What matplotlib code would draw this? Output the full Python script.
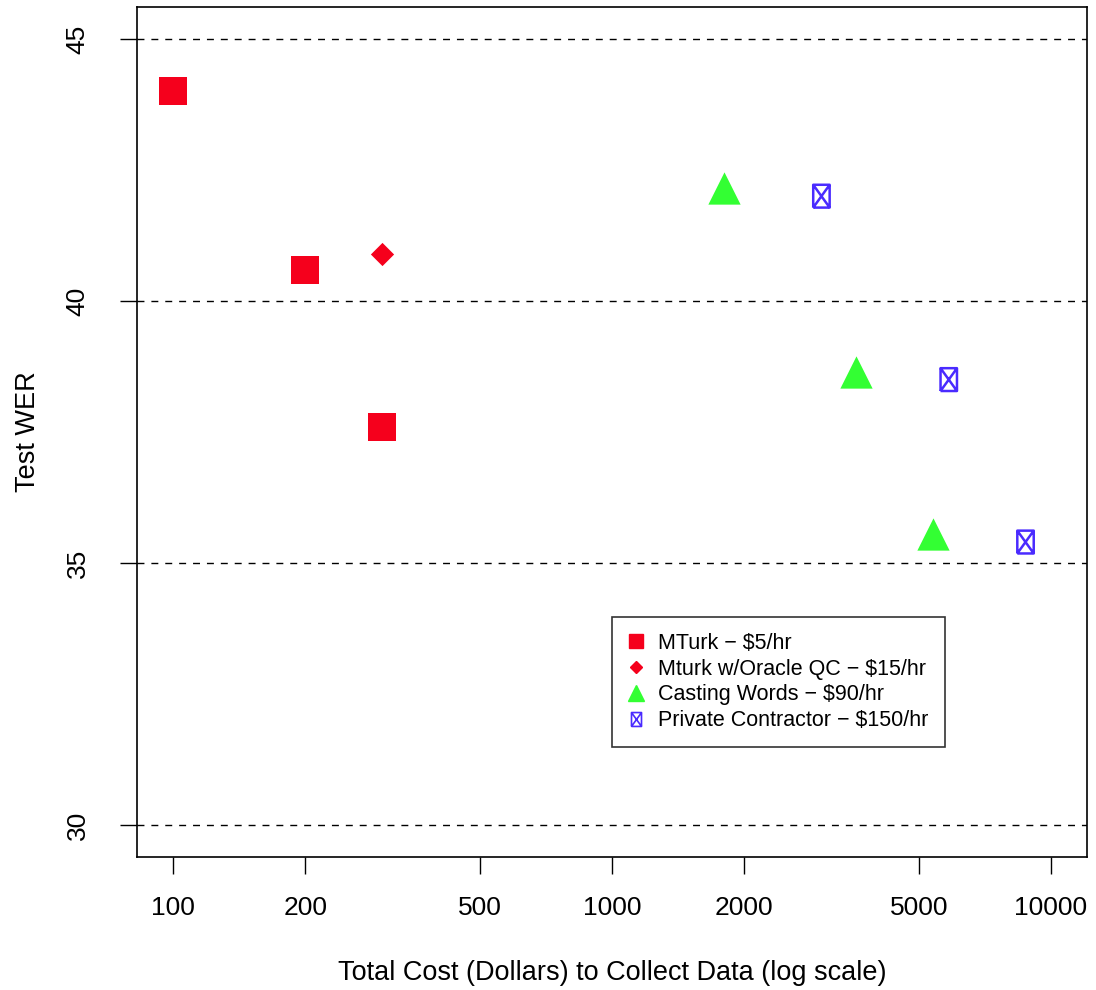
import matplotlib
matplotlib.use("Agg")
import matplotlib.pyplot as plt
from matplotlib.path import Path

plt.rcParams["font.family"] = ["Liberation Sans", "DejaVu Sans"]

# data
mturk_cost = [100, 200, 300]
mturk_wer = [44.0, 40.6, 37.6]
oracle_cost = [300]
oracle_wer = [40.9]
casting_cost = [1800, 3600, 5400]
casting_wer = [42.15, 38.65, 35.55]
contractor_cost = [3000, 5850, 8750]
contractor_wer = [42.0, 38.5, 35.4]

xticks = [100, 200, 500, 1000, 2000, 5000, 10000]
yticks = [30, 35, 40, 45]

labels = ["MTurk \u2212 $5/hr", "Mturk w/Oracle QC \u2212 $15/hr",
          "Casting Words \u2212 $90/hr", "Private Contractor \u2212 $150/hr"]

# rectangle with an X inside (R pch 7 style, a bit narrow)
w, h = 0.36, 0.5
box_x = Path([(-w, -h), (w, -h), (w, h), (-w, h), (-w, -h), (-w, -h), (w, h), (w, -h), (-w, h)],
             [Path.MOVETO, Path.LINETO, Path.LINETO, Path.LINETO, Path.LINETO,
              Path.MOVETO, Path.LINETO, Path.MOVETO, Path.LINETO])

red = "#f5001c"
green = "#33ff33"
blue = "#4a2bff"

fig = plt.figure(figsize=(10.96, 9.9), dpi=100)
ax = fig.add_axes([137 / 1096, 1 - 857 / 990, 950 / 1096, 850 / 990])
ax.set_xscale("log")
ax.set_xlim(82.8, 12080)
ax.set_ylim(29.39, 45.61)

for y in yticks:
    ax.axhline(y, color="black", lw=1.0, ls=(0, (5, 5)), zorder=1)

ax.scatter(mturk_cost, mturk_wer, marker="s", s=380, color=red, lw=0, zorder=3)
ax.scatter(oracle_cost, oracle_wer, marker="D", s=140, color=red, lw=0, zorder=3)
ax.scatter(casting_cost, casting_wer, marker="^", s=540, color=green, lw=0, zorder=3)
ax.scatter(contractor_cost, contractor_wer, marker=box_x, s=270, facecolor="none",
           edgecolor=blue, lw=1.8, zorder=3)

ax.set_xticks(xticks)
ax.set_xticklabels([str(t) for t in xticks])
ax.xaxis.set_minor_locator(matplotlib.ticker.NullLocator())
ax.set_yticks(yticks)
ax.set_yticklabels([str(t) for t in yticks], rotation=90, va="center")
ax.tick_params(axis="both", labelsize=19, length=12, width=1, direction="out")
ax.tick_params(axis="x", pad=16)
ax.tick_params(axis="y", pad=22)
for s in ax.spines.values():
    s.set_linewidth(1.2)

ax.set_xlabel("Total Cost (Dollars) to Collect Data (log scale)", fontsize=19.5, labelpad=29)
ax.set_ylabel("Test WER", fontsize=19.5, labelpad=18)

handles = [
    plt.Line2D([], [], ls="none", marker="s", ms=10, color=red, mec=red),
    plt.Line2D([], [], ls="none", marker="D", ms=6, color=red, mec=red),
    plt.Line2D([], [], ls="none", marker="^", ms=11, color=green, mec=green),
    plt.Line2D([], [], ls="none", marker=box_x, ms=10, mfc="none", mec=blue, mew=1.2),
]
leg = ax.legend(handles, labels, loc="lower left", bbox_to_anchor=(0.5, 0.129),
                fontsize=15.5, frameon=True, fancybox=False, edgecolor="black",
                handlelength=0.7, handletextpad=0.7, labelspacing=0.22,
                borderpad=0.75, borderaxespad=0)
leg.get_frame().set_linewidth(1.2)

fig.savefig("out.png", dpi=100)
